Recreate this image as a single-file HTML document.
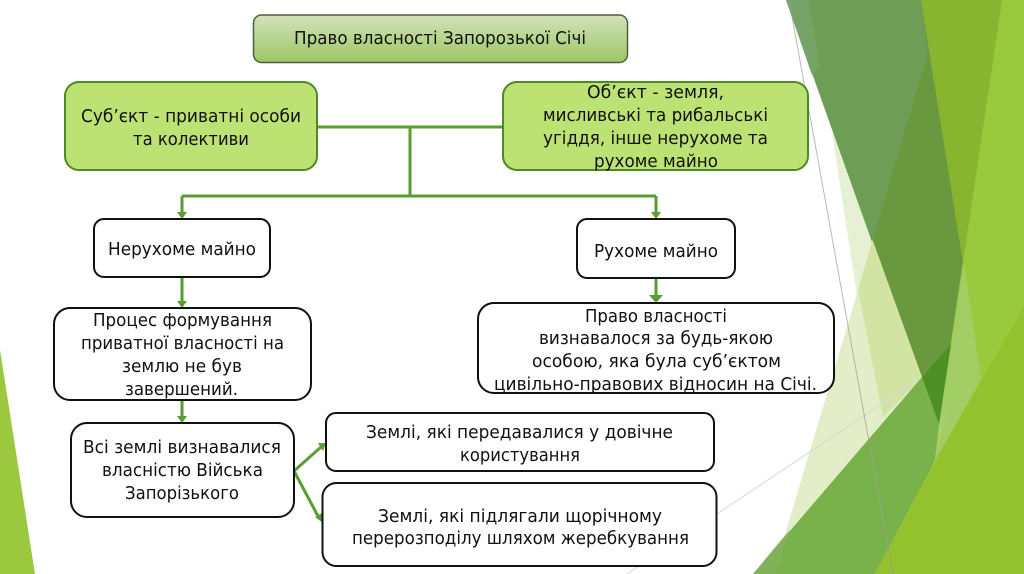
<!DOCTYPE html>
<html><head><meta charset="utf-8"><style>
html,body{margin:0;padding:0;background:#fff;width:1024px;height:574px;overflow:hidden}
svg{display:block}
text{font-family:"DejaVu Sans","Liberation Sans",sans-serif;font-size:18px;fill:#111}
.w{fill:#fff;stroke:#111;stroke-width:2}
.c{fill:none;stroke:#5a9e32;stroke-width:3}
</style></head><body>
<svg width="1024" height="574" viewBox="0 0 1024 574" xmlns="http://www.w3.org/2000/svg">
<defs><linearGradient id="g" x1="0" y1="0" x2="0" y2="1"><stop offset="0" stop-color="#d2e2ba"/><stop offset="1" stop-color="#9cc763"/></linearGradient></defs>
<rect width="1024" height="574" fill="#fff"/>
<polygon points="0,350 35,574 0,574" fill="#9bc83f"/>
<!-- pale wedges -->
<polygon points="832,133 900,574 1024,574 1024,133" fill="#e6f0d2"/>
<polygon points="900,150 785,534 753,574 1024,574 1024,150" fill="#e3eec9"/>
<polygon points="872,242 858,290 883,417 960,340 940,240" fill="#d1e4a3"/>
<!-- faint lines -->
<line x1="627" y1="574" x2="1024" y2="309" stroke="#d8d8d8" stroke-width="1"/>
<!-- top green band -->
<polygon points="921,0 1024,0 1024,400 981,379" fill="#87b52f"/>
<polygon points="786,0 1002,0 939,424" fill="#6a983f"/>
<polygon points="786,0 921,0 928,53 872,242" fill="#6e9e56"/>
<polygon points="786,0 808,0 820,67 812,75" fill="#76a468"/>
<polygon points="921,0 1002,0 963,263" fill="#87b52f"/>
<!-- bright right -->
<polygon points="1002,0 1024,0 1024,574 935,574 935,461 939,424" fill="#99c93d"/>
<polygon points="964,263 981,379 935,461 939,424" fill="#a2cd65"/>
<polygon points="967,284 981,379 970,400 948,380 951,344 970,320" fill="#a2cd65"/>
<!-- mid green diagonal -->
<polygon points="753,574 922,377 951,344 939,424 935,461 875,574" fill="#79b24a"/>
<polygon points="922,377 951,344 939,424" fill="#4e8f26"/>
<polygon points="753,574 790,530 775,574" fill="#7fb259"/>
<polygon points="875,574 935,461 1024,307 1024,574" fill="#94c22e"/>
<polygon points="935,461 940,420 948,408 932,470" fill="#a8d06e"/>
<line x1="789" y1="0" x2="893" y2="574" stroke="#9a9a9a" stroke-opacity=".7" stroke-width="1"/>

<!-- connectors -->
<path class="c" d="M317 127H503M410 127V196M182 196H656M182 196V214M656 196V214M182 277V303M182 400V418M656 278V297M294 471L321 447M294 471L319 518"/>
<g fill="#5a9e32">
<polygon points="177,212 187,212 182,219"/>
<polygon points="651,212 661,212 656,219"/>
<polygon points="177,301 187,301 182,308"/>
<polygon points="177,416 187,416 182,423"/>
<polygon points="649,295 663,295 656,303"/>
<polygon points="318,443 326,443 323,451"/>
<polygon points="315,517 323,523 322,513"/>
</g>

<!-- boxes -->
<rect x="253.500" y="15" width="374" height="47.500" rx="8" fill="url(#g)" stroke="#4e5f44" stroke-width="1.500"/>
<rect x="65" y="82" width="252" height="88" rx="14" fill="#bde274" stroke="#4d8a22" stroke-width="2"/>
<rect x="503" y="82" width="305" height="88" rx="14" fill="#bde274" stroke="#4d8a22" stroke-width="2"/>
<rect class="w" x="94" y="219" width="176" height="58" rx="10"/>
<rect class="w" x="577" y="219" width="158" height="59" rx="10"/>
<rect class="w" x="54" y="308" width="257" height="92" rx="16"/>
<rect class="w" x="478" y="303" width="356" height="90" rx="16"/>
<rect class="w" x="71" y="423" width="223" height="94" rx="16"/>
<rect class="w" x="326" y="413" width="388" height="58" rx="10"/>
<rect class="w" x="322.500" y="483" width="394" height="83" rx="14"/>

<!-- text -->
<text x="294" y="44" textLength="292" lengthAdjust="spacingAndGlyphs">Право власності Запорозької Січі</text>
<text x="81" y="122" textLength="220" lengthAdjust="spacingAndGlyphs">Суб’єкт - приватні особи</text>
<text x="133" y="145" textLength="116" lengthAdjust="spacingAndGlyphs">та колективи</text>
<text x="587" y="98" textLength="137" lengthAdjust="spacingAndGlyphs">Об’єкт - земля,</text>
<text x="543" y="121" textLength="225" lengthAdjust="spacingAndGlyphs">мисливські та рибальські</text>
<text x="543" y="144" textLength="225" lengthAdjust="spacingAndGlyphs">угіддя, інше нерухоме та</text>
<text x="594" y="167" textLength="124" lengthAdjust="spacingAndGlyphs">рухоме майно</text>
<text x="108" y="255" textLength="148" lengthAdjust="spacingAndGlyphs">Нерухоме майно</text>
<text x="594" y="257" textLength="124" lengthAdjust="spacingAndGlyphs">Рухоме майно</text>
<text x="93" y="326" textLength="179" lengthAdjust="spacingAndGlyphs">Процес формування</text>
<text x="81" y="349" textLength="203" lengthAdjust="spacingAndGlyphs">приватної власності на</text>
<text x="122" y="372" textLength="120" lengthAdjust="spacingAndGlyphs">землю не був</text>
<text x="125" y="395" textLength="113" lengthAdjust="spacingAndGlyphs">завершений.</text>
<text x="585" y="322" textLength="142" lengthAdjust="spacingAndGlyphs">Право власності</text>
<text x="539" y="344" textLength="234" lengthAdjust="spacingAndGlyphs">визнавалося за будь-якою</text>
<text x="532" y="367" textLength="249" lengthAdjust="spacingAndGlyphs">особою, яка була суб’єктом</text>
<text x="494" y="390" textLength="323" lengthAdjust="spacingAndGlyphs">цивільно-правових відносин на Січі.</text>
<text x="83" y="453" textLength="198" lengthAdjust="spacingAndGlyphs">Всі землі визнавалися</text>
<text x="102" y="476" textLength="161" lengthAdjust="spacingAndGlyphs">власністю Війська</text>
<text x="125" y="499" textLength="114" lengthAdjust="spacingAndGlyphs">Запорізького</text>
<text x="366" y="438" textLength="307" lengthAdjust="spacingAndGlyphs">Землі, які передавалися у довічне</text>
<text x="460" y="461" textLength="120" lengthAdjust="spacingAndGlyphs">користування</text>
<text x="378" y="522" textLength="284" lengthAdjust="spacingAndGlyphs">Землі, які підлягали щорічному</text>
<text x="352" y="544" textLength="337" lengthAdjust="spacingAndGlyphs">перерозподілу шляхом жеребкування</text>
</svg>
</body></html>
